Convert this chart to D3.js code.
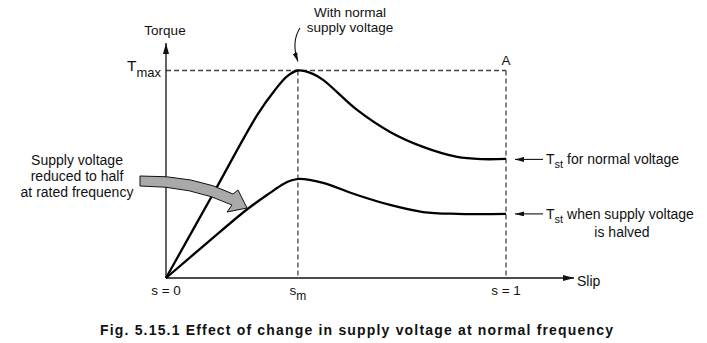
<!DOCTYPE html>
<html>
<head>
<meta charset="utf-8">
<script src="https://cdnjs.cloudflare.com/ajax/libs/d3/7.8.5/d3.min.js"></script>
<style>
  html, body { margin: 0; padding: 0; background: #fff; }
  svg { display: block; font-family: "Liberation Sans", Arial, sans-serif; }
</style>
</head>
<body>
<div id="canvas"></div>
<script>
;(function() {

  // slip (0 .. 1) against torque as a fraction of Tmax
  var normalSlip   = [0, 0.135, 0.27, 0.32, 0.356, 0.388, 0.43, 0.462, 0.562, 0.659, 0.756, 0.856, 0.93, 1.0];
  var normalTorque = [0, 0.395, 0.79, 0.905, 0.972, 1.0, 0.985, 0.955, 0.810, 0.704, 0.632, 0.584, 0.573, 0.574];

  var halfSlip   = [0, 0.12, 0.238, 0.306, 0.344, 0.37, 0.394, 0.462, 0.562, 0.659, 0.756, 0.856, 0.93, 1.0];
  var halfTorque = [0, 0.168, 0.33, 0.41, 0.452, 0.471, 0.478, 0.458, 0.400, 0.352, 0.318, 0.309, 0.308, 0.309];

  var slipMax = 0.388;      // s_m
  var slipTicks = [
    {s: 0, label: 's = 0'},
    {s: slipMax, label: 's', sub: 'm'},
    {s: 1, label: 's = 1'}
  ];

  var W = 707, H = 343;

  var svg = d3.select('#canvas').append('svg')
    .attr('width', W)
    .attr('height', H);

  var x = d3.scaleLinear().domain([0, 1]).range([166, 506]);
  var y = d3.scaleLinear().domain([0, 1]).range([278, 70.5]);

  var defs = svg.append('defs');
  var addHead = function(id, len, wid) {
    defs.append('marker')
      .attr('id', id)
      .attr('viewBox', '0 0 ' + len + ' ' + wid)
      .attr('refX', len)
      .attr('refY', wid / 2)
      .attr('markerUnits', 'userSpaceOnUse')
      .attr('markerWidth', len)
      .attr('markerHeight', wid)
      .attr('orient', 'auto')
      .append('path')
      .attr('d', 'M0,0L' + len + ',' + (wid / 2) + 'L0,' + wid + 'Z')
      .attr('fill', '#111');
  };
  addHead('axisHead', 11, 6);
  addHead('smallHead', 9, 5);

  // dashed guides: Tmax line, s_m and s = 1 verticals
  var dash = svg.append('g')
    .attr('stroke', '#444')
    .attr('stroke-width', 1.3)
    .attr('stroke-dasharray', '5,3')
    .attr('fill', 'none');
  dash.append('line')
    .attr('x1', x(0)).attr('x2', x(1))
    .attr('y1', y(1)).attr('y2', y(1));
  dash.append('line')
    .attr('x1', x(slipMax)).attr('x2', x(slipMax))
    .attr('y1', y(1)).attr('y2', y(0));
  dash.append('line')
    .attr('x1', x(1)).attr('x2', x(1))
    .attr('y1', y(1)).attr('y2', y(0));

  // axes
  svg.append('line')
    .attr('x1', x(0)).attr('y1', y(0))
    .attr('x2', x(0)).attr('y2', 43)
    .attr('stroke', '#111').attr('stroke-width', 1.3)
    .attr('marker-end', 'url(#axisHead)');
  svg.append('line')
    .attr('x1', x(0)).attr('y1', y(0))
    .attr('x2', 574).attr('y2', y(0))
    .attr('stroke', '#111').attr('stroke-width', 1.3)
    .attr('marker-end', 'url(#axisHead)');

  // the two torque-slip curves
  var line = d3.line()
    .x(function(d) { return x(d[0]); })
    .y(function(d) { return y(d[1]); })
    .curve(d3.curveCatmullRom.alpha(0.5));

  var curves = [d3.zip(normalSlip, normalTorque), d3.zip(halfSlip, halfTorque)];
  svg.selectAll('path.curve')
    .data(curves)
    .enter()
    .append('path')
    .attr('class', 'curve')
    .attr('d', line)
    .attr('fill', 'none')
    .attr('stroke', '#000')
    .attr('stroke-width', 2.3)
    .attr('stroke-linejoin', 'round');

  // grey callout arrow
  svg.append('path')
    .attr('d', 'M140,176Q195,175 233,194L238,190L247,208L227,212L232,205Q192,186 140,186Z')
    .attr('fill', '#a9a9a9')
    .attr('stroke', '#111')
    .attr('stroke-width', 1)
    .attr('stroke-linejoin', 'miter');

  // small curved pointer to the peak
  svg.append('path')
    .attr('d', 'M300,28Q291,42 ' + x(slipMax) + ',' + (y(1) - 9))
    .attr('fill', 'none')
    .attr('stroke', '#111')
    .attr('stroke-width', 1.1)
    .attr('marker-end', 'url(#smallHead)');

  // pointers to the starting torques
  var tstY = [y(normalTorque[normalTorque.length - 1]) + 0.5, y(halfTorque[halfTorque.length - 1])];
  svg.selectAll('line.tst')
    .data(tstY)
    .enter()
    .append('line')
    .attr('class', 'tst')
    .attr('x1', 543).attr('x2', 515)
    .attr('y1', function(d) { return d; })
    .attr('y2', function(d) { return d; })
    .attr('stroke', '#111')
    .attr('stroke-width', 1.1)
    .attr('marker-end', 'url(#smallHead)');

  var txt = function(str, px, py, size, anchor) {
    return svg.append('text')
      .attr('x', px).attr('y', py)
      .attr('font-size', size)
      .attr('text-anchor', anchor || 'start')
      .attr('fill', '#111')
      .text(str);
  };

  txt('Torque', 165, 35, 13.5, 'middle');
  txt('Slip', 577, 286, 14);
  txt('A', x(1), 65, 13.5, 'middle');

  var tmax = svg.append('text').attr('x', 127).attr('y', 71).attr('fill', '#111');
  tmax.append('tspan').attr('font-size', 15.5).text('T');
  tmax.append('tspan').attr('font-size', 13).attr('dy', 6).text('max');

  txt('With normal', 350, 17, 13.5, 'middle');
  txt('supply voltage', 350, 31.5, 13.5, 'middle');

  txt('Supply voltage', 77, 165, 14, 'middle');
  txt('reduced to half', 77, 181, 14, 'middle');
  txt('at rated frequency', 77, 197, 14, 'middle');

  var tstText = [' for normal voltage', ' when supply voltage'];
  tstText.forEach(function(s, i) {
    var t = svg.append('text')
      .attr('x', 546).attr('y', tstY[i] + 5)
      .attr('fill', '#111')
      .attr('font-size', 14);
    t.append('tspan').text('T');
    t.append('tspan').attr('font-size', 11).attr('dy', 4).text('st');
    t.append('tspan').attr('dy', -4).text(s);
  });
  txt('is halved', 622, 237, 14, 'middle');

  // slip tick labels under the axis
  slipTicks.forEach(function(d) {
    var t = svg.append('text')
      .attr('x', x(d.s)).attr('y', 295)
      .attr('font-size', 13.5)
      .attr('text-anchor', 'middle')
      .attr('fill', '#111');
    t.append('tspan').text(d.label);
    if (d.sub) t.append('tspan').attr('dy', 5).attr('font-size', 12).text(d.sub);
  });

  svg.append('text')
    .attr('x', 100).attr('y', 335)
    .attr('font-size', 14)
    .attr('font-weight', 'bold')
    .attr('textLength', 513)
    .attr('lengthAdjust', 'spacing')
    .attr('fill', '#111')
    .text('Fig. 5.15.1 Effect of change in supply voltage at normal frequency');

})();
</script>
</body>
</html>
